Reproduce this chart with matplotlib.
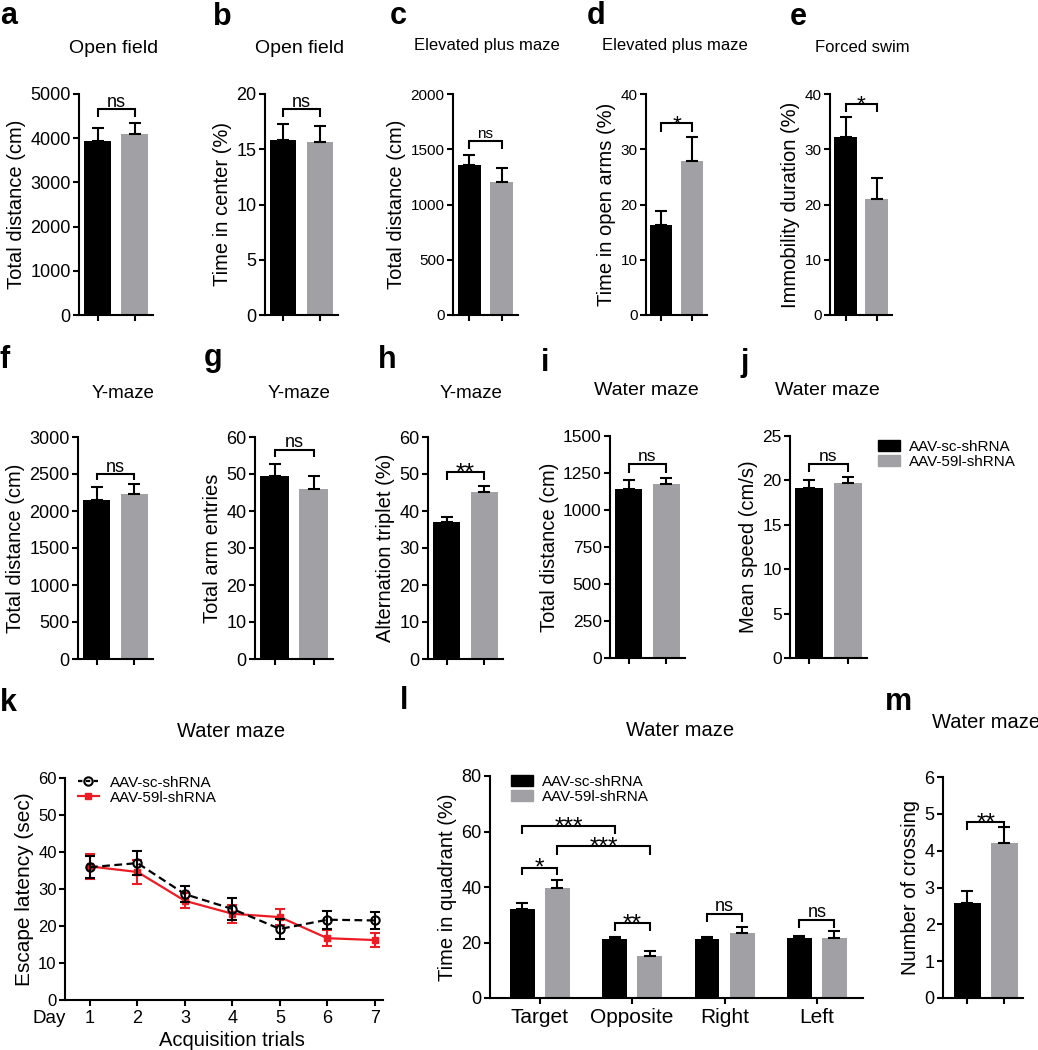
import matplotlib
matplotlib.use('Agg')
import matplotlib.pyplot as plt
from matplotlib.patches import Patch
from matplotlib.lines import Line2D
import numpy as np

plt.rcParams['font.family'] = ['Liberation Sans', 'DejaVu Sans']

W, H = 1038, 1050
BLACK = '#000000'
GREY = '#a1a1a5'
RED = '#ec1c24'

groups = ['AAV-sc-shRNA', 'AAV-59l-shRNA']

# ---- two-group bar panels (mean, sem) ----
a_mean = [3940, 4100]; a_sem = [290, 240]
b_mean = [15.8, 15.7]; b_sem = [1.5, 1.4]
c_mean = [1360, 1208]; c_sem = [87, 121]
d_mean = [16.3, 27.8]; d_sem = [2.6, 4.4]
e_mean = [32.3, 21.0]; e_sem = [3.5, 3.8]
f_mean = [2151, 2228]; f_sem = [167, 140]
g_mean = [49.4, 45.9]; g_sem = [3.4, 3.5]
h_mean = [37.0, 45.1]; h_sem = [1.3, 1.7]
i_mean = [1142, 1176]; i_sem = [59, 43]
j_mean = [19.15, 19.68]; j_sem = [0.9, 0.67]
m_mean = [2.58, 4.21]; m_sem = [0.33, 0.43]

# ---- panel k: escape latency over days ----
days = [1, 2, 3, 4, 5, 6, 7]
k_sc_mean = [35.9, 37.0, 28.6, 24.6, 19.2, 21.7, 21.5]
k_sc_sem = [2.9, 3.2, 2.1, 3.1, 2.7, 2.4, 2.4]
k_59_mean = [36.1, 34.6, 26.8, 23.3, 22.4, 16.7, 16.2]
k_59_sem = [3.3, 3.2, 2.0, 2.4, 2.2, 2.1, 1.9]

# ---- panel l: time in quadrant ----
quadrants = ['Target', 'Opposite', 'Right', 'Left']
l_sc_mean = [32.1, 21.2, 21.2, 21.6]
l_sc_sem = [2.3, 0.8, 0.8, 0.8]
l_59_mean = [39.8, 15.3, 23.4, 21.6]
l_59_sem = [2.8, 1.8, 2.3, 2.7]

# significance labels
a_sig = 'ns'; b_sig = 'ns'; c_sig = 'ns'; d_sig = '*'; e_sig = '*'
f_sig = 'ns'; g_sig = 'ns'; h_sig = '**'; i_sig = 'ns'; j_sig = 'ns'; m_sig = '**'
l_sigs = ['*', '***', '***', '**', 'ns', 'ns']

fig = plt.figure(figsize=(W / 100, H / 100), dpi=100)


def rect(x0, x1, ytop, ybot):
    return [x0 / W, 1 - ybot / H, (x1 - x0) / W, (ybot - ytop) / H]


def style(ax, ytop, ystep, tick_fs):
    for s in ['top', 'right']:
        ax.spines[s].set_visible(False)
    for s in ['left', 'bottom']:
        ax.spines[s].set_linewidth(1.5)
    ax.set_ylim(0, ytop)
    ax.set_yticks(np.arange(0, ytop + ystep / 2, ystep))
    ax.tick_params(direction='out', length=4, width=1.5, labelsize=tick_fs, pad=2)


def bracket(ax, x1, x2, ytop, yleg, text, fs):
    ax.plot([x1, x1, x2, x2], [yleg, ytop, ytop, yleg], color='k', lw=1.5,
            clip_on=False, solid_capstyle='butt', solid_joinstyle='miter')
    if text == 'ns':
        dy, tfs = 2, fs
    else:
        tfs = fs * 1.35
        dy = -3.5 * tfs / 12
    ax.annotate(text, xy=((x1 + x2) / 2, ytop), xytext=(0, dy), textcoords='offset points',
                ha='center', va='baseline', fontsize=tfs)


def barpanel(r, mean, sem, ytop, ystep, ylabel, tick_fs, sig, br_top, br_leg, sig_fs, xlim=(-0.5, 1.5)):
    ax = fig.add_axes(r)
    x = np.arange(2)
    ax.bar(x, mean, width=0.72, color=[BLACK, GREY], zorder=2)
    ax.errorbar(x, mean, yerr=[np.zeros(2), sem], fmt='none', ecolor='k',
                elinewidth=1.5, capsize=4, capthick=1.5, zorder=3)
    style(ax, ytop, ystep, tick_fs)
    ax.set_xlim(*xlim)
    ax.set_xticks(x)
    ax.set_xticklabels([])
    ax.set_ylabel(ylabel, fontsize=14.5, labelpad=3)
    bracket(ax, 0, 1, br_top, br_leg, sig, sig_fs)
    return ax


barpanel(rect(79, 153, 94, 315), a_mean, a_sem, 5000, 1000, 'Total distance (cm)', 13, a_sig, 4650, 4490, 13)
barpanel(rect(265, 338, 94, 315), b_mean, b_sem, 20, 5, 'Time in center (%)', 13, b_sig, 18.6, 17.9, 13)
barpanel(rect(453, 518, 94, 315), c_mean, c_sem, 2000, 500, 'Total distance (cm)', 11, c_sig, 1577, 1505, 11)
barpanel(rect(646, 707, 94, 315), d_mean, d_sem, 40, 10, 'Time in open arms (%)', 11, d_sig, 34.7, 33.2, 12)
barpanel(rect(830, 892, 94, 315), e_mean, e_sem, 40, 10, 'Immobility duration (%)', 11, e_sig, 38.2, 36.7, 12)

barpanel(rect(78, 153, 437, 659), f_mean, f_sem, 3000, 500, 'Total distance (cm)', 13, f_sig, 2494, 2422, 13)
barpanel(rect(255, 333, 437, 659), g_mean, g_sem, 60, 10, 'Total arm entries', 13, g_sig, 56.6, 54.6, 13)
barpanel(rect(428, 503, 437, 659), h_mean, h_sem, 60, 10, 'Alternation triplet (%)', 13, h_sig, 50.5, 48.3, 13)
barpanel(rect(610, 685, 436, 658), i_mean, i_sem, 1500, 250, 'Total distance (cm)', 12.5, i_sig, 1309, 1253, 12.5)
axj = barpanel(rect(790, 867, 436, 658), j_mean, j_sem, 25, 5, 'Mean speed (cm/s)', 12.5, j_sig, 21.85, 20.9, 12.5)

barpanel(rect(943, 1023, 777, 998), m_mean, m_sem, 6, 1, 'Number of crossing', 13, m_sig, 4.77, 4.57, 13,
         xlim=(-0.65, 1.5))

# legend for j
fig.legend(handles=[Patch(color=BLACK), Patch(color=GREY)], labels=groups,
           loc='upper left', bbox_to_anchor=(878 / W, 1 - 440 / H), frameon=False,
           fontsize=11, handlelength=1.45, handleheight=0.7, handletextpad=0.55,
           labelspacing=0.05, borderpad=0, borderaxespad=0)

# ---- panel k ----
axk = fig.add_axes(rect(65, 383, 778, 1000))
axk.errorbar(days, k_59_mean, yerr=k_59_sem, color=RED, lw=1.6, marker='s', ms=5,
             mfc=RED, mec=RED, elinewidth=1.5, capsize=3.5, capthick=1.5, zorder=3)
axk.errorbar(days, k_sc_mean, yerr=k_sc_sem, color='k', lw=1.6, ls=(0, (3.5, 2)), marker='o',
             ms=6, mfc='none', mec='k', mew=1.5, elinewidth=1.5, capsize=3.5, capthick=1.5, zorder=4)
style(axk, 60, 10, 12)
axk.set_xlim(0.474, 7.17)
axk.set_xticks(days)
axk.tick_params(axis='x', labelsize=13, pad=3)
axk.set_ylabel('Escape latency (sec)', fontsize=15, labelpad=3)
axk.legend(handles=[Line2D([], [], color='k', ls=(0, (2, 1.5)), lw=1.6, marker='o', ms=6, mfc='none', mew=1.5),
                    Line2D([], [], color=RED, lw=1.6, marker='s', ms=5)],
           labels=groups, loc='upper left', bbox_to_anchor=(0.04, 1.01), frameon=False,
           fontsize=11, handlelength=1.4, handletextpad=0.7, labelspacing=0.05,
           borderpad=0, borderaxespad=0)
fig.text(32 / W, 1 - 1023 / H, 'Day', fontsize=13.5, ha='left', va='baseline')
fig.text(232 / W, 1 - 1046 / H, 'Acquisition trials', fontsize=14.5, ha='center', va='baseline')

# ---- panel l ----
axl = fig.add_axes(rect(490, 863, 776, 998))
xq = np.arange(len(quadrants))
off = 0.19
bw = 0.27
axl.bar(xq - off, l_sc_mean, width=bw, color=BLACK, zorder=2)
axl.bar(xq + off, l_59_mean, width=bw, color=GREY, zorder=2)
axl.errorbar(xq - off, l_sc_mean, yerr=[np.zeros(4), l_sc_sem], fmt='none', ecolor='k',
             elinewidth=1.5, capsize=4, capthick=1.5, zorder=3)
axl.errorbar(xq + off, l_59_mean, yerr=[np.zeros(4), l_59_sem], fmt='none', ecolor='k',
             elinewidth=1.5, capsize=4, capthick=1.5, zorder=3)
style(axl, 80, 20, 13)
axl.set_xlim(-0.54, 3.5)
axl.set_xticks(xq)
axl.set_xticklabels(quadrants)
axl.tick_params(axis='x', labelsize=15, pad=3)
axl.set_ylabel('Time in quadrant (%)', fontsize=14.5, labelpad=3)
l_brackets = [(0 - off, 0 + off, 47.0, 44.4), (0 - off, 1 - off, 62.0, 59.0),
              (0 + off, 1 + off, 54.6, 51.6), (1 - off, 1 + off, 27.0, 24.0),
              (2 - off, 2 + off, 30.3, 27.3), (3 - off, 3 + off, 28.2, 25.3)]
for (x1, x2, yt, yl), s in zip(l_brackets, l_sigs):
    bracket(axl, x1, x2, yt, yl, s, 13)
axl.legend(handles=[Patch(color=BLACK), Patch(color=GREY)], labels=groups,
           loc='upper left', bbox_to_anchor=(0.055, 1.005), frameon=False,
           fontsize=11, handlelength=1.45, handleheight=0.7, handletextpad=0.6,
           labelspacing=0.05, borderpad=0, borderaxespad=0)

# ---- titles ----
titles = [('Open field', 114, 53, 14), ('Open field', 300, 53, 14),
          ('Elevated plus maze', 487, 50, 12), ('Elevated plus maze', 675, 50, 12),
          ('Forced swim', 862, 52, 12),
          ('Y-maze', 123, 398, 13.5), ('Y-maze', 299, 398, 13.5), ('Y-maze', 471, 398, 13.5),
          ('Water maze', 646, 395, 14), ('Water maze', 827, 395, 14),
          ('Water maze', 231, 737, 14.5), ('Water maze', 680, 736, 14.5), ('Water maze', 986, 728, 14.5)]
for t, x, y, fs in titles:
    fig.text(x / W, 1 - y / H, t, fontsize=fs, ha='center', va='baseline')

letters = [('a', 0, 24), ('b', 213, 25), ('c', 390, 24), ('d', 587, 24), ('e', 790, 25),
           ('f', 0, 368), ('g', 204, 366), ('h', 378, 368), ('i', 541, 371), ('j', 740, 371),
           ('k', 0, 711), ('l', 400, 709), ('m', 885, 710)]
for t, x, y in letters:
    fig.text(x / W, 1 - y / H, t, fontsize=22, fontweight='bold', ha='left', va='baseline')

fig.savefig('out.png', dpi=100)
